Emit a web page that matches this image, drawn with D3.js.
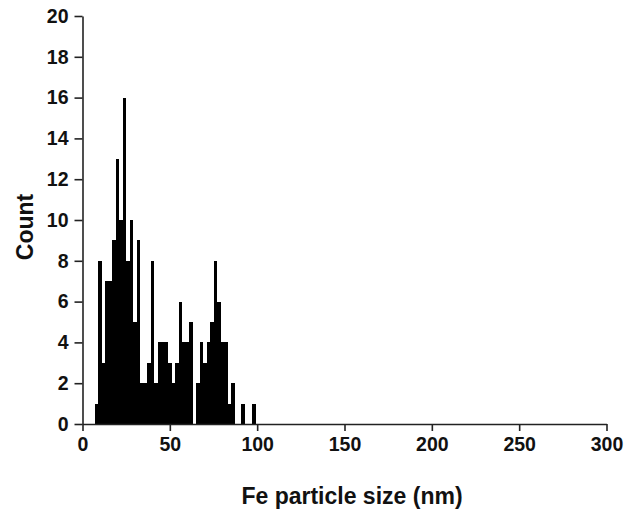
<!DOCTYPE html>
<html>
<head>
<meta charset="utf-8">
<script src="https://cdn.jsdelivr.net/npm/d3@7"></script>
<style>
  html, body { margin: 0; padding: 0; background: #fff; }
  svg text { font-family: "Liberation Sans", Arial, Helvetica, sans-serif; font-weight: bold; fill: #111; }
</style>
</head>
<body>
<div id="chart"></div>
<script>
// Fe particle size histogram, 2 nm bins
const bin_lower = [7, 9, 11, 13, 15, 17, 19, 21, 23, 25, 27, 29, 31, 33, 35, 37, 39, 41, 43, 45,
    47, 49, 51, 53, 55, 57, 59, 61, 63, 65, 67, 69, 71, 73, 75, 77, 79, 81, 83, 85,
    87, 89, 91, 93, 95, 97];
const bin_width = 2;
const counts = [1, 8, 3, 7, 7, 9, 13, 10, 16, 8, 10, 5, 9, 2, 2, 3, 8, 2, 4, 4,
    4, 3, 2, 3, 6, 4, 4, 5, 0, 2, 4, 3, 4, 5, 8, 6, 4, 4, 1, 2,
    0, 0, 1, 0, 0, 1];
const x_ticks = [0, 50, 100, 150, 200, 250, 300];
const y_ticks = [0, 2, 4, 6, 8, 10, 12, 14, 16, 18, 20];

const w = 628;
const h = 514;
const margin = { top: 16, right: 21.5, bottom: 90, left: 82.5 };

const bars = bin_lower.map((x0, i) => ({ x0, x1: x0 + bin_width, count: counts[i] }));

const svg = d3.select("#chart").append("svg")
    .attr("width", w)
    .attr("height", h);

const x = d3.scaleLinear().domain([0, 300]).range([margin.left, w - margin.right]);
const y = d3.scaleLinear().domain([0, 20]).range([h - margin.bottom, margin.top]);

svg.append("g")
    .selectAll("rect")
    .data(bars.filter(d => d.count > 0))
    .join("rect")
    .attr("x", d => x(d.x0))
    .attr("width", d => x(d.x1) - x(d.x0) + 0.3)
    .attr("y", d => y(d.count))
    .attr("height", d => y(0) - y(d.count))
    .attr("fill", "#000")
    .attr("shape-rendering", "crispEdges");

const x_axis = svg.append("g")
    .attr("transform", `translate(0,${y(0)})`)
    .call(d3.axisBottom(x).tickValues(x_ticks).tickSize(7).tickSizeOuter(0).tickPadding(6));

const y_axis = svg.append("g")
    .attr("transform", `translate(${margin.left},0)`)
    .call(d3.axisLeft(y).tickValues(y_ticks).tickSize(8).tickSizeOuter(0).tickPadding(6));

[x_axis, y_axis].forEach(g => {
    g.select(".domain").attr("stroke", "#222").attr("stroke-width", 1.6);
    g.selectAll(".tick line").attr("stroke", "#222").attr("stroke-width", 1.6);
    g.selectAll(".tick text").style("font-size", "19.5px").attr("fill", "#111");
});

svg.append("text")
    .attr("x", 352)
    .attr("y", 504)
    .attr("text-anchor", "middle")
    .style("font-size", "23px")
    .text("Fe particle size (nm)");

svg.append("text")
    .attr("transform", "rotate(-90)")
    .attr("x", -227)
    .attr("y", 33)
    .attr("text-anchor", "middle")
    .style("font-size", "23px")
    .text("Count");
</script>
</body>
</html>
